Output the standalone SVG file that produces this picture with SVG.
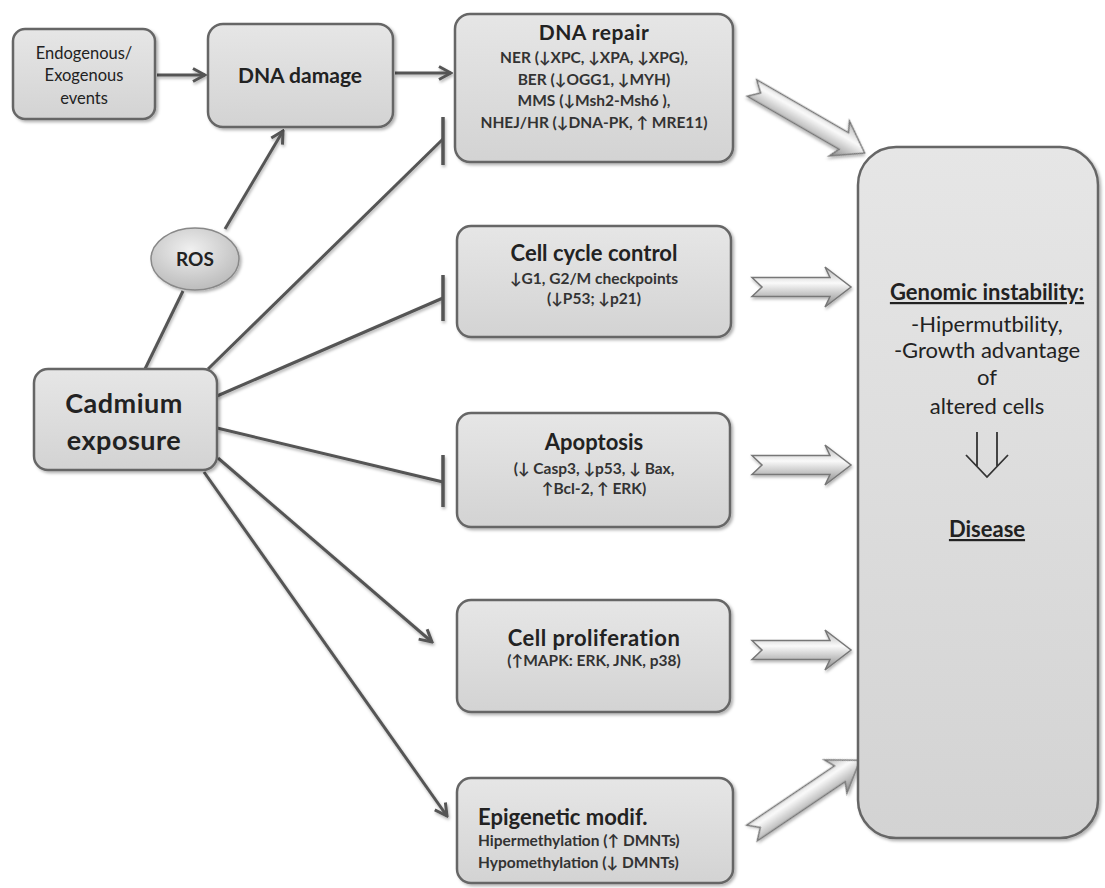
<svg xmlns="http://www.w3.org/2000/svg" width="1105" height="888" viewBox="0 0 1105 888">
<style>
.box{fill:url(#boxg);stroke:#666;stroke-width:2.5;filter:url(#sh)}
.t{font-family:Lato,"Liberation Sans",sans-serif;fill:#222;text-anchor:middle}
.b{font-weight:bold}
.h{font-size:22px;font-weight:bold}
.s{font-size:15.5px;font-weight:bold;fill:#333}
.g{font-size:22px}
.ln{stroke:#555;stroke-width:3;fill:none}
.bar{stroke:#555;stroke-width:3.5;fill:none}
.fat{fill:url(#arrg);stroke:#777;stroke-width:1.5;filter:url(#sh2)}
</style>
<defs>
<linearGradient id="boxg" x1="0" y1="0" x2="0" y2="1">
<stop offset="0" stop-color="#e6e6e6"/><stop offset="1" stop-color="#d3d3d3"/>
</linearGradient>
<radialGradient id="rosg" cx="0.45" cy="0.35" r="0.7">
<stop offset="0" stop-color="#f0f0f0"/><stop offset="1" stop-color="#b8b8b8"/>
</radialGradient>
<linearGradient id="arrg" x1="0" y1="0" x2="0" y2="1">
<stop offset="0" stop-color="#b5b5b5"/><stop offset="0.4" stop-color="#fafafa"/><stop offset="1" stop-color="#888"/>
</linearGradient>
<filter id="sh" x="-10%" y="-10%" width="125%" height="125%">
<feDropShadow dx="2" dy="2" stdDeviation="1.5" flood-color="#000" flood-opacity="0.3"/>
</filter>
<filter id="sh2" x="-20%" y="-30%" width="140%" height="160%">
<feDropShadow dx="1" dy="2" stdDeviation="1.5" flood-color="#000" flood-opacity="0.3"/>
</filter>
<marker id="ah" markerUnits="userSpaceOnUse" markerWidth="16" markerHeight="16" viewBox="0 0 16 16" refX="14" refY="8" orient="auto">
<path d="M2,1.5 L14,8 L2,14.5" fill="none" stroke="#555" stroke-width="3"/>
</marker>
<path id="fa" d="M0,-9.5 L78,-9.5 L73,-20 L99,0 L73,20 L78,9.5 L0,9.5 L10,0 Z"/>
<path id="fal" d="M0,-9.5 L106,-9.5 L101,-20 L130,0 L101,20 L106,9.5 L0,9.5 L10,0 Z"/>
</defs>
<rect width="1105" height="888" fill="#fff"/>

<g id="connectors">
<g filter="url(#sh2)">
<line class="ln" x1="157" y1="75" x2="205" y2="75" marker-end="url(#ah)"/>
<line class="ln" x1="395" y1="73" x2="451" y2="73" marker-end="url(#ah)"/>
<line class="ln" x1="145" y1="369" x2="183" y2="291"/>
<line class="ln" x1="225" y1="229" x2="283" y2="131" marker-end="url(#ah)"/>
<line class="ln" x1="208" y1="369" x2="443" y2="139"/>
<line class="bar" x1="443" y1="117" x2="443" y2="165"/>
<line class="ln" x1="217" y1="396" x2="443" y2="298"/>
<line class="bar" x1="443" y1="275" x2="443" y2="321"/>
<line class="ln" x1="217" y1="428" x2="443" y2="482"/>
<line class="bar" x1="443" y1="455" x2="443" y2="507"/>
<line class="ln" x1="218" y1="458" x2="432" y2="642" marker-end="url(#ah)"/>
<line class="ln" x1="204" y1="472" x2="447" y2="816" marker-end="url(#ah)"/>
</g>
<use href="#fal" class="fat" transform="translate(752,88) rotate(30)"/>
<use href="#fa" class="fat" transform="translate(752,287)"/>
<use href="#fa" class="fat" transform="translate(752,465)"/>
<use href="#fa" class="fat" transform="translate(752,650)"/>
<use href="#fal" class="fat" transform="translate(752,833) rotate(-34)"/>
</g>

<g id="endogenous">
<rect class="box" x="13" y="29" width="142" height="90" rx="12"/>
<text class="t" font-size="16.5" x="84" y="59">Endogenous/</text>
<text class="t" font-size="16.5" x="84" y="81">Exogenous</text>
<text class="t" font-size="16.5" x="84" y="104">events</text>
</g>

<g id="dna-damage">
<rect class="box" x="208" y="24" width="185" height="103" rx="15"/>
<text class="t b" font-size="21" x="300" y="83">DNA damage</text>
</g>

<g id="dna-repair">
<rect class="box" x="455" y="14" width="278" height="148" rx="15"/>
<text class="t b" font-size="21" x="594" y="40" letter-spacing="0.5">DNA  repair</text>
<text class="t s" x="594" y="63">NER (↓XPC, ↓XPA, ↓XPG),</text>
<text class="t s" x="594" y="85">BER (↓OGG1, ↓MYH)</text>
<text class="t s" x="594" y="106">MMS (↓Msh2-Msh6 ),</text>
<text class="t s" x="594" y="128">NHEJ/HR (↓DNA-PK, ↑ MRE11)</text>
</g>

<g id="cell-cycle">
<rect class="box" x="457" y="226" width="274" height="111" rx="14"/>
<text class="t h" x="594" y="261">Cell cycle control</text>
<text class="t s" x="594" y="284">↓G1, G2/M checkpoints</text>
<text class="t s" x="594" y="304">(↓P53; ↓p21)</text>
</g>

<g id="apoptosis">
<rect class="box" x="457" y="413" width="273" height="114" rx="14"/>
<text class="t h" x="594" y="450">Apoptosis</text>
<text class="t s" x="594" y="474">(↓ Casp3, ↓p53, ↓ Bax,</text>
<text class="t s" x="594" y="494">↑Bcl-2, ↑ ERK)</text>
</g>

<g id="cell-proliferation">
<rect class="box" x="457" y="600" width="273" height="112" rx="14"/>
<text class="t h" x="594" y="646" letter-spacing="0.5">Cell  proliferation</text>
<text class="t s" font-size="15" x="594" y="666">(↑MAPK: ERK, JNK, p38)</text>
</g>

<g id="epigenetic">
<rect class="box" x="457" y="778" width="276" height="105" rx="14"/>
<text class="t h" x="478" y="825" style="text-anchor:start">Epigenetic modif.</text>
<text class="t s" x="478" y="846" style="text-anchor:start">Hipermethylation (↑ DMNTs)</text>
<text class="t s" x="478" y="868" style="text-anchor:start">Hypomethylation (↓ DMNTs)</text>
</g>

<g id="ros">
<ellipse cx="195" cy="259" rx="44" ry="31" fill="url(#rosg)" stroke="#888" stroke-width="1.5" filter="url(#sh)"/>
<text class="t b" font-size="19" x="195" y="266">ROS</text>
</g>

<g id="cadmium">
<rect class="box" x="34" y="369" width="183" height="101" rx="14"/>
<text class="t b" font-size="27" x="124" y="413" letter-spacing="0.5">Cadmium</text>
<text class="t b" font-size="27" x="124" y="450" letter-spacing="0.5">exposure</text>
</g>

<g id="genomic-instability">
<rect class="box" x="858" y="147" width="240" height="691" rx="38"/>
<text class="t g b" x="987" y="300" text-decoration="underline">Genomic instability:</text>
<text class="t g" x="987" y="332">-Hipermutbility,</text>
<text class="t g" x="987" y="358">-Growth advantage</text>
<text class="t g" x="987" y="385">of</text>
<text class="t g" x="987" y="414">altered cells</text>
<path d="M977,432 V466 M997,432 V466 M966,455 L987,477 L1008,455" fill="none" stroke="#333" stroke-width="1.8"/>
<text class="t g b" x="987" y="537" text-decoration="underline">Disease</text>
</g>
</svg>
